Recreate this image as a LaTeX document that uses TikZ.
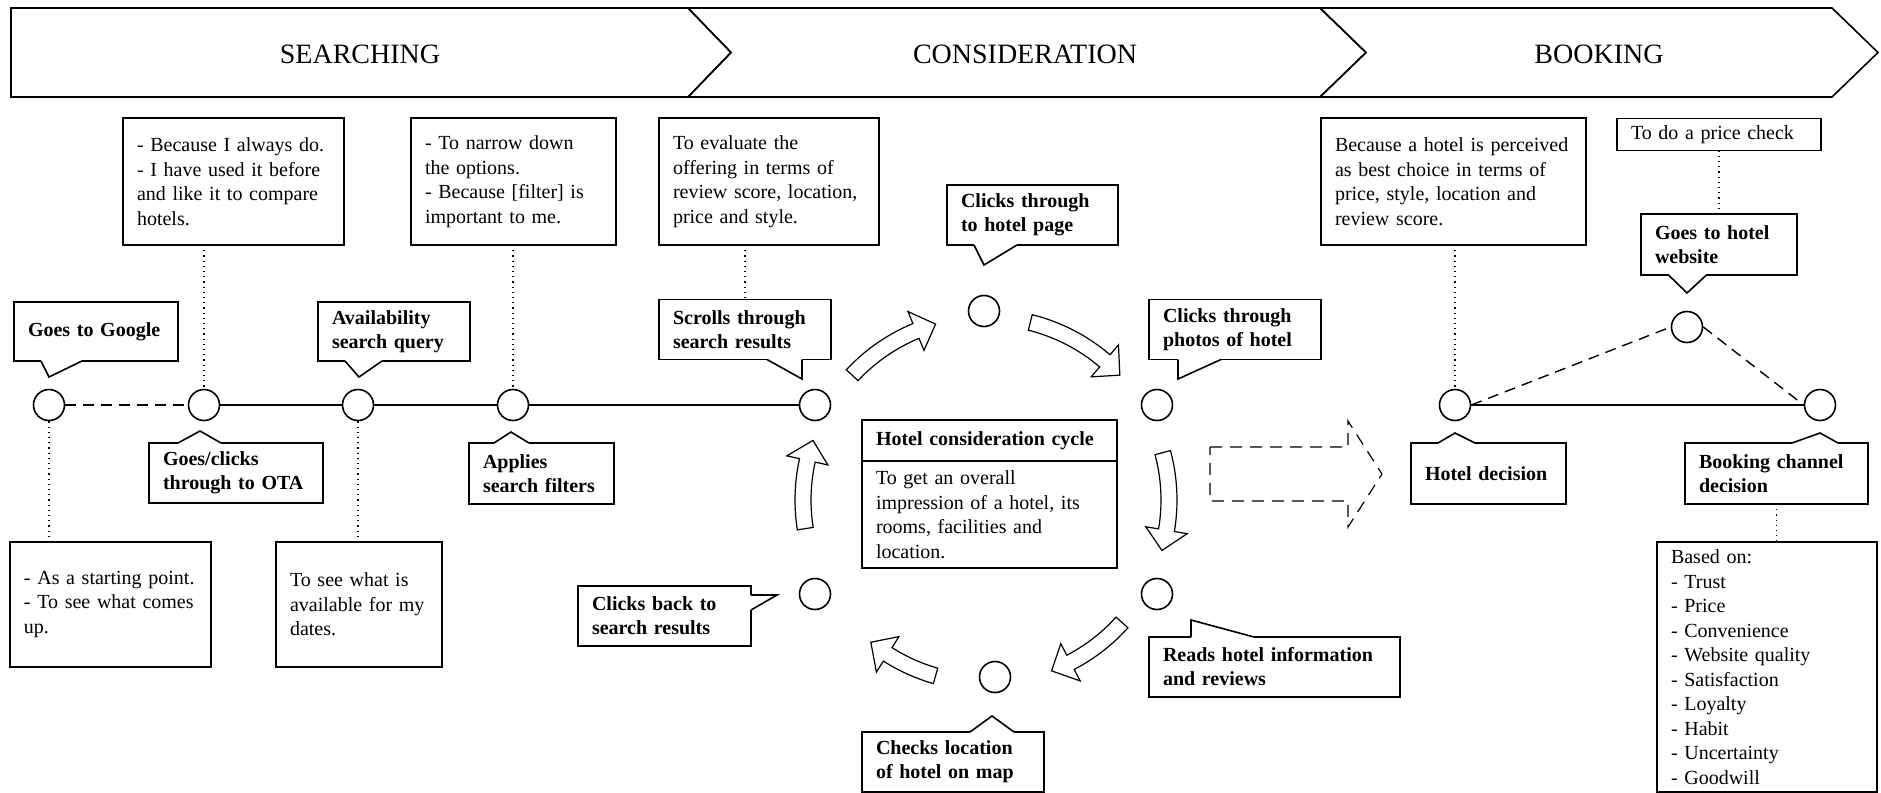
\documentclass[tikz,border=0pt]{standalone}
\usepackage{fontspec}
\setmainfont{Liberation Serif}
\usetikzlibrary{positioning,calc}

\tikzset{
  stepdot/.style={circle, draw=black, fill=white, line width=0.8pt, minimum size=15.5pt, inner sep=0pt},
  actbox/.style={rectangle, draw=black, fill=white, line width=0.8pt, font=\bfseries, align=left, anchor=north west, inner xsep=7pt, inner ysep=1pt, outer sep=0pt},
  notebox/.style={rectangle, draw=black, fill=white, line width=0.8pt, align=left, anchor=north west, inner xsep=7pt, inner ysep=1pt, outer sep=0pt},
  link/.style={line width=0.8pt},
  maybelink/.style={line width=0.7pt, dash pattern=on 5.5pt off 3.5pt},
  reason/.style={line width=0.6pt, dotted},
  phase/.style={line width=0.8pt, line join=miter},
  cyclearr/.style={draw=black, fill=white, line width=0.6pt, line join=miter},
}

% pointer of a callout: base point, tip, base point
\newcommand{\pointer}[3]{%
  \fill[white] #1 -- #2 -- #3 -- cycle;
  \draw[white, line width=1.3pt] #1 -- #3;
  \draw[line width=0.8pt, line join=miter] #1 -- #2 -- #3;
}

% hollow arrow round the consideration cycle: tail angle, head base angle, tip angle
\newcommand{\cyclearrow}[3]{%
  \draw[cyclearr] plot[domain=#1:#2, samples=15] ({986+191*cos(\x)},{500-191*sin(\x)})
    -- ({986+204*cos(#2)},{500-204*sin(#2)})
    -- ({986+183*cos(#3)},{500-183*sin(#3)})
    -- ({986+162*cos(#2)},{500-162*sin(#2)})
    -- ({986+175*cos(#2)},{500-175*sin(#2)})
    -- plot[domain=#2:#1, samples=15] ({986+175*cos(\x)},{500-175*sin(\x)})
    -- cycle;
}

\begin{document}
\begin{tikzpicture}[x=0.5pt, y=-0.5pt, font={\fontsize{10}{12.25}\selectfont}]
\useasboundingbox (0,0) rectangle (1881,793);

\draw[phase] (11,8) -- (688,8) -- (731,52.5) -- (688,97) -- (11,97) -- cycle;
\draw[phase] (688,8) -- (1320,8) -- (1366,52.5) -- (1320,97) -- (688,97) -- (731,52.5) -- cycle;
\draw[phase] (1320,8) -- (1832,8) -- (1878,52.5) -- (1832,97) -- (1320,97) -- (1366,52.5) -- cycle;
\node[font={\fontsize{14}{16}\selectfont}] (searching) at (360,54) {SEARCHING};
\node[font={\fontsize{14}{16}\selectfont}] (consideration) at (1025,54) {CONSIDERATION};
\node[font={\fontsize{14}{16}\selectfont}] (booking) at (1599,54) {BOOKING};

% searching
\node[stepdot] (google) at (49,405) {};
\node[stepdot] (ota) at (204,405) {};
\node[stepdot] (avail) at (358,405) {};
\node[stepdot] (filter) at (513,405) {};
\node[stepdot] (scroll) at (815,405) {};
\draw[maybelink] (google) -- (ota);
\draw[link] (ota) -- (avail) -- (filter) -- (scroll);

\node[actbox, text width=68pt, minimum height=29.5pt] (googlebox) at (14,302) {Goes to Google};
\pointer{(41,361)}{(49,377)}{(82,361)}
\node[actbox, text width=73pt, minimum height=30pt] (otabox) at (149,443) {Goes/clicks\\through to OTA};
\pointer{(178,443)}{(200,431)}{(221,443)}
\node[actbox, text width=62pt, minimum height=29.5pt] (availbox) at (318,302) {Availability\\search query};
\pointer{(345,361)}{(359,377)}{(382,361)}
\node[actbox, text width=58.5pt, minimum height=30.5pt] (filterbox) at (469,443) {Applies\\search filters};
\pointer{(494,443)}{(511,432)}{(529,443)}
\node[actbox, text width=72pt, minimum height=30pt] (scrollbox) at (659,299.5) {Scrolls through\\search results};
\pointer{(767,359.5)}{(802,379)}{(802,359.5)}

\node[notebox, text width=96.5pt, minimum height=63.5pt] (because) at (123,118) {- Because I always do.\\- I have used it before\\and like it to compare\\hotels.};
\node[notebox, text width=88.5pt, minimum height=63.5pt] (narrow) at (411,118) {- To narrow down\\the options.\\- Because [filter] is\\important to me.};
\node[notebox, text width=96pt, minimum height=63.5pt] (evaluate) at (659,118) {To evaluate the\\offering in terms of\\review score, location,\\price and style.};
\node[notebox, text width=86.5pt, minimum height=62.5pt] (starting) at (10,542) {- As a starting point.\\- To see what comes\\up.};
\node[notebox, text width=69pt, minimum height=62.5pt] (available) at (276,542) {To see what is\\available for my\\dates.};
\draw[reason] (because.south -| ota) -- (ota.north);
\draw[reason] (narrow.south -| filter) -- (filter.north);
\draw[reason] (evaluate.south -| scrollbox.north) -- (scrollbox.north);
\draw[reason] (google.south) -- (starting.north -| google);
\draw[reason] (avail.south) -- (available.north -| avail);

% consideration cycle
\node[stepdot] (page) at (984,311) {};
\node[stepdot] (photo) at (1157,405) {};
\node[stepdot] (read) at (1157,594) {};
\node[stepdot] (map) at (995,677) {};
\node[stepdot] (back) at (815,594) {};
\cyclearrow{137}{112.5}{106}
\cyclearrow{76}{49.5}{43}
\cyclearrow{15}{-9.5}{-16}
\cyclearrow{-42}{-62.5}{-69}
\cyclearrow{-106}{-122.5}{-129}
\cyclearrow{189}{167.5}{161}

\node[actbox, text width=71.5pt, minimum height=30pt] (pagebox) at (947,185) {Clicks through\\to hotel page};
\pointer{(974,245)}{(984,265)}{(1017,245)}
\node[actbox, text width=72pt, minimum height=30pt] (photobox) at (1149,299.5) {Clicks through\\photos of hotel};
\pointer{(1178,359.5)}{(1178,379)}{(1221,359.5)}
\node[actbox, text width=111.5pt, minimum height=30pt] (readbox) at (1149,637) {Reads hotel information\\and reviews};
\pointer{(1191,637)}{(1191,620)}{(1254,637)}
\node[actbox, text width=77pt, minimum height=30pt] (mapbox) at (862,732) {Checks location\\of hotel on map};
\pointer{(970,732)}{(992,716)}{(1014,732)}
\node[actbox, text width=72.5pt, minimum height=30pt] (backbox) at (578,586) {Clicks back to\\search results};
\pointer{(751,595)}{(777,595)}{(751,610)}

\node[actbox, text width=113.5pt, minimum height=20.5pt] (constitle) at (862,420) {Hotel consideration cycle};
\node[notebox, text width=113.5pt, minimum height=53.5pt, below=0pt of constitle] (consbody) {To get an overall\\impression of a hotel, its\\rooms, facilities and\\location.};

\draw[line width=0.6pt, dash pattern=on 6pt off 4pt] (1210,447) -- (1348,447) -- (1348,421) -- (1382,474) -- (1348,527) -- (1348,501) -- (1210,501) -- cycle;

% booking
\node[stepdot] (decision) at (1455,405) {};
\node[stepdot] (site) at (1687,327) {};
\node[stepdot] (channel) at (1820,405) {};
\draw[link] (decision) -- (channel);
\draw[maybelink] (decision.east) -- (site.west);
\draw[maybelink] (site.east) -- (channel.west);

\node[actbox, text width=63.5pt, minimum height=30.5pt] (decisionbox) at (1411,443) {Hotel decision};
\pointer{(1438,443)}{(1455,433)}{(1475,443)}
\node[actbox, text width=77.5pt, minimum height=30.5pt] (channelbox) at (1685,443) {Booking channel\\decision};
\pointer{(1792,443)}{(1820,433)}{(1838,443)}
\node[actbox, text width=64pt, minimum height=30.5pt] (sitebox) at (1641,214) {Goes to hotel\\website};
\pointer{(1668,274.5)}{(1687,293)}{(1707,274.5)}

\node[notebox, text width=118.5pt, minimum height=63.5pt] (perceived) at (1321,118) {Because a hotel is perceived\\as best choice in terms of\\price, style, location and\\review score.};
\node[notebox, text width=88pt, minimum height=16pt] (pricecheck) at (1617,118.5) {To do a price check};
\node[notebox, text width=96pt, minimum height=125pt] (basedon) at (1657,542) {Based on:\\- Trust\\- Price\\- Convenience\\- Website quality\\- Satisfaction\\- Loyalty\\- Habit\\- Uncertainty\\- Goodwill};
\draw[reason] (perceived.south -| decision) -- (decision.north);
\draw[reason] (pricecheck.south -| sitebox.north) -- (sitebox.north);
\draw[reason] (channelbox.south) -- (basedon.north -| channelbox.south);
\end{tikzpicture}
\end{document}
